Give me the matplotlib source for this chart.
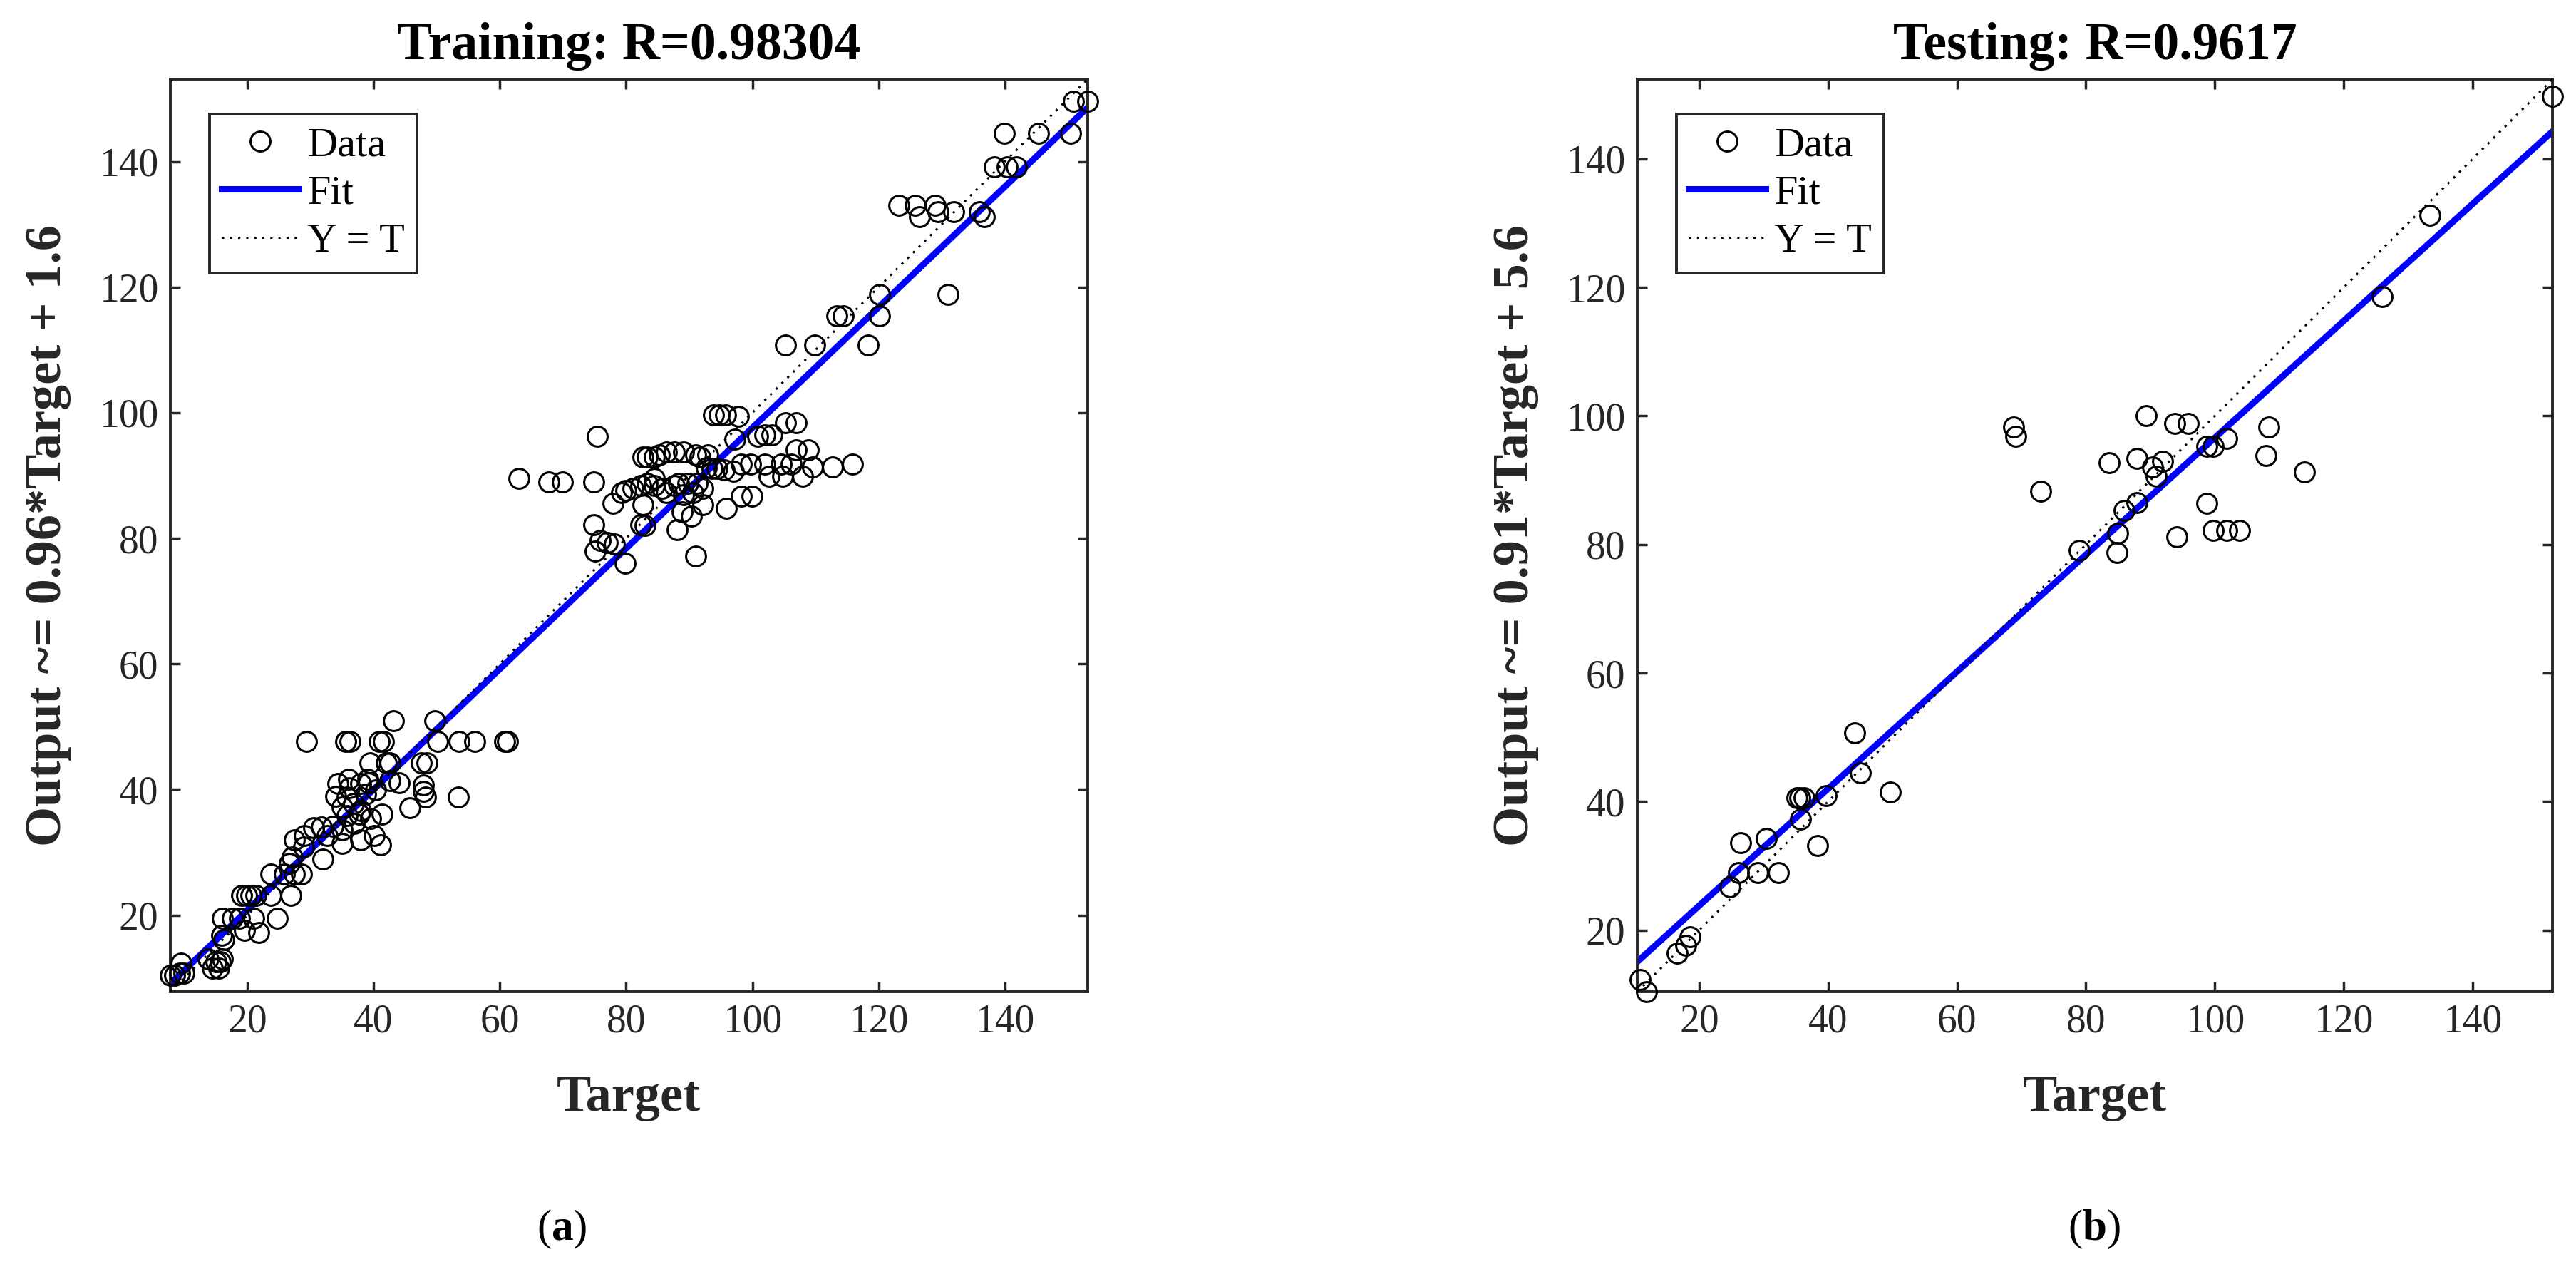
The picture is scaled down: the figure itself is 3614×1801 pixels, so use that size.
import numpy as np
import matplotlib
matplotlib.use('Agg')
import matplotlib.pyplot as plt

plt.rcParams['font.family'] = ['Liberation Serif', 'DejaVu Serif']
plt.rcParams['mathtext.fontset'] = 'custom'
plt.rcParams['mathtext.rm'] = 'Liberation Serif'
plt.rcParams['mathtext.bf'] = 'Liberation Serif:bold'

# ---- training set ----
train_target = [
    153.1, 150.9, 139.9, 145.3, 150.4, 138.3, 140.4, 141.8,
    123.2, 125.8, 129.0, 126.5, 129.4, 131.9, 136.0, 136.7,
    120.2, 131.0, 113.4, 114.4, 120.1, 105.2, 109.9, 118.4,
    93.8, 94.8, 95.8, 97.8, 105.3, 106.9, 97.2, 100.8, 102.0, 103.1,
    106.9, 108.9, 109.5, 112.7, 115.9, 102.0, 104.6, 106.1, 108.0, 104.8,
    102.7, 98.2, 99.7, 97.0, 95.5, 94.4, 93.6, 92.7, 92.9, 91.7,
    91.0, 89.1, 87.6, 86.4, 85.3, 84.5, 83.4, 82.7, 88.3, 89.8,
    91.3, 92.1, 90.6, 89.1, 87.6, 86.4, 84.5, 83.4, 82.3, 81.1,
    80.0, 79.3, 77.9, 82.7, 85.7, 84.5, 92.1, 90.4, 88.9, 88.1,
    95.9, 98.2, 99.9, 91.0, 82.3, 83.0, 74.9, 75.9, 77.0, 75.1,
    79.8, 78.1, 75.4, 74.9, 69.9, 67.8, 63.0,
    43.1, 49.7, 29.4, 35.6, 36.3, 40.9, 41.6, 50.1, 53.5, 56.0,
    60.8, 61.2, 39.4, 42.0, 42.6, 47.5, 48.5, 44.1, 47.9, 47.9,
    53.4, 45.8, 48.2, 36.0, 39.1, 42.6, 34.3, 34.0, 35.0, 38.0,
    41.3, 36.8, 36.1, 38.0, 39.2, 35.8, 38.8, 40.3, 37.7, 35.8,
    39.5, 36.9, 41.1, 40.1, 38.0, 35.0, 32.7, 33.5, 30.5, 27.5,
    29.0, 32.0, 35.0, 31.7, 28.9, 23.7, 25.9, 27.5, 28.6, 26.7,
    27.1, 19.1, 19.9, 20.6, 21.4, 23.7, 26.9, 16.1, 17.6, 18.8,
    21.0, 24.8, 19.5, 21.8, 15.9, 16.3, 13.8, 15.0, 15.7, 16.1,
    14.5, 15.5, 9.5, 7.8, 8.5, 9.3, 10.0,
]
train_output = [
    149.6, 149.6, 144.5, 144.5, 144.5, 139.2, 139.2, 139.2,
    133.0, 133.0, 133.0, 131.2, 132.0, 132.0, 132.0, 131.2,
    118.8, 118.8, 115.4, 115.4, 115.4, 110.8, 110.8, 110.8,
    99.6, 99.6, 99.6, 99.4, 98.4, 98.4, 95.8, 96.2, 96.5, 96.5,
    94.1, 94.1, 91.4, 91.4, 91.8, 91.8, 91.8, 91.8, 89.9, 89.9,
    89.9, 91.8, 91.8, 90.7, 90.9, 91.1, 91.1, 91.3, 93.3, 92.9,
    93.3, 93.7, 93.7, 93.7, 93.3, 92.9, 92.9, 92.9, 88.8, 88.8,
    88.8, 88.0, 87.3, 86.9, 88.4, 87.3, 88.4, 88.8, 88.4, 88.0,
    87.6, 87.3, 85.6, 85.4, 88.0, 89.5, 85.4, 83.5, 84.2, 81.4,
    84.8, 86.7, 86.7, 77.2, 82.2, 82.0, 82.2, 79.7, 79.3, 78.0,
    76.0, 79.1, 96.2, 89.0, 89.0, 89.0, 89.5,
    50.9, 50.9, 47.6, 47.6, 47.6, 47.6, 47.6, 47.6, 47.6, 47.6,
    47.6, 47.6, 44.3, 44.3, 44.3, 44.3, 44.3, 41.1, 40.7, 39.7,
    38.8, 37.1, 38.8, 41.6, 41.6, 41.4, 41.0, 38.9, 37.2, 36.6,
    36.1, 37.8, 40.3, 41.0, 41.1, 38.8, 39.2, 39.9, 36.1, 35.8,
    35.4, 34.6, 31.2, 32.7, 32.0, 31.4, 32.7, 34.2, 33.9, 32.0,
    32.7, 28.9, 33.6, 34.0, 30.9, 26.5, 26.5, 26.5, 26.5, 28.2,
    29.3, 23.1, 23.1, 23.1, 23.1, 23.1, 23.1, 19.5, 19.5, 19.5,
    19.5, 19.5, 17.6, 17.2, 16.8, 16.1, 13.0, 12.6, 12.6, 13.0,
    11.6, 11.6, 12.3, 10.4, 10.4, 10.8, 10.8,
]

# ---- testing set ----
test_target = [
    10.8, 11.8, 16.6, 17.9, 18.6, 24.8, 26.1, 29.1, 32.3, 26.4,
    30.4, 35.7, 35.2, 35.6, 36.3, 39.7, 38.4, 44.1, 45.0, 49.7,
    68.8, 69.1, 73.0, 79.0, 83.6, 84.8, 84.9, 85.9, 87.9, 87.9,
    89.4, 90.4, 90.9, 91.9, 93.8, 95.9, 94.1, 98.7, 99.8, 101.8,
    98.8, 99.8, 101.8, 103.8, 108.4, 107.9, 113.9, 126.0, 133.4, 152.4,
]
test_output = [
    12.3, 10.4, 16.4, 17.6, 19.0, 26.7, 28.9, 28.9, 28.9, 33.6,
    34.3, 37.3, 40.6, 40.6, 40.6, 40.9, 33.1, 50.7, 44.5, 41.5,
    98.3, 96.8, 88.3, 79.1, 92.7, 78.7, 81.7, 85.3, 86.5, 93.4,
    100.0, 92.1, 90.6, 92.9, 98.8, 98.8, 81.2, 95.3, 95.3, 96.5,
    86.4, 82.2, 82.2, 82.2, 98.3, 93.8, 91.3, 118.6, 131.2, 149.8,
]

titles = ['Training: R=0.98304', 'Testing: R=0.9617']
fit_slope = [0.96, 0.91]
fit_intercept = [1.6, 5.6]
ylabels = ['Output ~= 0.96*Target + 1.6', 'Output ~= 0.91*Target + 5.6']
panel_tags = ['a', 'b']
tick_values = [20, 40, 60, 80, 100, 120, 140]

dark = '#262626'

fig = plt.figure(figsize=(36.14, 18.01), dpi=100)
rects = [[0.0661, 0.2276, 0.3561, 0.7107], [0.6356, 0.2276, 0.3553, 0.7107]]
tag_x = [0.218, 0.813]
sets = [(train_target, train_output), (test_target, test_output)]

for i in range(2):
    t = np.array(sets[i][0])
    y = np.array(sets[i][1])
    lo = min(t.min(), y.min())
    hi = max(t.max(), y.max())
    lims = np.array([lo, hi])

    ax = fig.add_axes(rects[i])
    fit, = ax.plot(lims, fit_slope[i] * lims + fit_intercept[i], color='b', lw=6.5, zorder=2)
    ident, = ax.plot(lims, lims, color='k', ls=(0, (1, 2.7)), lw=2.2, zorder=3)
    # matlab does not clip the markers at the box edge
    data, = ax.plot(t, y, 'o', mfc='none', mec='k', ms=20, mew=2.2, zorder=4, clip_on=False)

    ax.set_xlim(lo, hi)
    ax.set_ylim(lo, hi)
    ax.set_xticks(tick_values)
    ax.set_yticks(tick_values)
    ax.tick_params(direction='in', length=10, width=2.5, top=True, right=True,
                   labelsize=40, color=dark, labelcolor=dark, pad=12)
    for s in ax.spines.values():
        s.set_color(dark)
        s.set_linewidth(2.8)

    ax.text(0.5, 1.036, titles[i], transform=ax.transAxes, ha='center', va='center',
            fontsize=53, fontweight='bold')
    ax.set_xlabel('Target', fontsize=52, fontweight='bold', color=dark)
    ax.xaxis.set_label_coords(0.5, -0.1164)
    ax.xaxis.label.set_va('center')
    ax.set_ylabel(ylabels[i], fontsize=52, fontweight='bold', color=dark)
    ax.yaxis.set_label_coords(-0.133, 0.5)
    ax.yaxis.label.set_va('center')

    leg = ax.legend([data, fit, ident], ['Data', 'Fit', 'Y = T'], loc='upper left',
                    bbox_to_anchor=(0.0427, 0.9617), borderaxespad=0, fontsize=42,
                    fancybox=False, edgecolor=dark, framealpha=1, handlelength=1.85,
                    handletextpad=0.2, borderpad=0.3, labelspacing=0.25, numpoints=1)
    leg.get_frame().set_linewidth(2.8)

    fig.text(tag_x[i], 0.0427, r'($\mathbf{' + panel_tags[i] + '}$)', fontsize=44,
             ha='center', va='center')

fig.savefig('out.png', dpi=100, facecolor='white')
